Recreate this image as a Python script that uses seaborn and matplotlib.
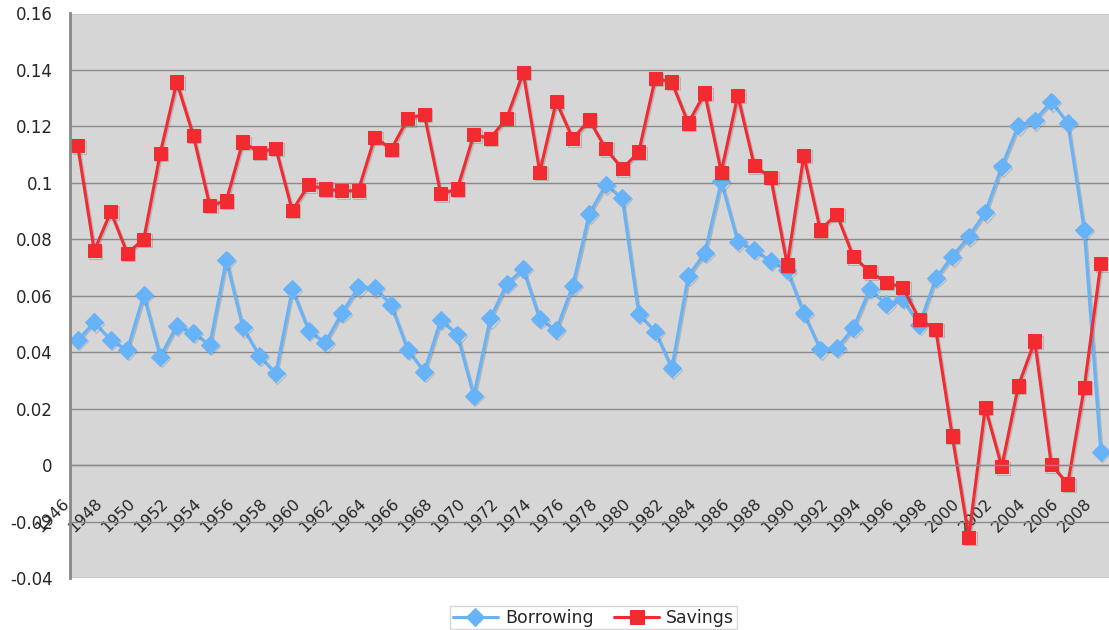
import numpy as np
import pandas as pd
import matplotlib
matplotlib.use("Agg")
import matplotlib.pyplot as plt
import matplotlib.patheffects as pe
import matplotlib.transforms as mtransforms
import seaborn as sns

# Data
years = list(range(1946, 2009))

borrowing = [0.0443, 0.0506, 0.0443, 0.0408, 0.0603, 0.0384, 0.0494, 0.0469,
             0.0426, 0.0727, 0.0488, 0.0387, 0.0325, 0.0623, 0.0476, 0.0434,
             0.0538, 0.0630, 0.0629, 0.0567, 0.0408, 0.0331, 0.0514, 0.0463,
             0.0245, 0.0520, 0.0642, 0.0695, 0.0517, 0.0479, 0.0636, 0.0890,
             0.0994, 0.0946, 0.0535, 0.0473, 0.0343, 0.0670, 0.0751, 0.1005,
             0.0792, 0.0762, 0.0723, 0.0690, 0.0538, 0.0410, 0.0414, 0.0485,
             0.0623, 0.0570, 0.0588, 0.0496, 0.0662, 0.0739, 0.0810, 0.0895,
             0.1058, 0.1203, 0.1221, 0.1288, 0.1212, 0.0833, 0.0047]

savings = [0.1131, 0.0759, 0.0898, 0.0751, 0.0800, 0.1105, 0.1357, 0.1169,
           0.0920, 0.0936, 0.1145, 0.1108, 0.1123, 0.0902, 0.0993, 0.0978,
           0.0972, 0.0972, 0.1162, 0.1119, 0.1227, 0.1243, 0.0961, 0.0978,
           0.1170, 0.1158, 0.1229, 0.1391, 0.1038, 0.1288, 0.1156, 0.1223,
           0.1121, 0.1050, 0.1109, 0.1371, 0.1357, 0.1212, 0.1318, 0.1038,
           0.1310, 0.1061, 0.1019, 0.0709, 0.1097, 0.0833, 0.0889, 0.0739,
           0.0685, 0.0648, 0.0629, 0.0517, 0.0481, 0.0103, -0.0256, 0.0205,
           -0.0006, 0.0280, 0.0440, 0.0002, -0.0067, 0.0276, 0.0713]

y_ticks = [-0.04, -0.02, 0, 0.02, 0.04, 0.06, 0.08, 0.1, 0.12, 0.14, 0.16]

BLUE = "#66B3FA"
RED = "#F42A31"
BG = "#D6D6D6"
GRID = "#8A8A8A"

df = pd.DataFrame({"idx": np.arange(len(years)), "Year": years,
                   "Borrowing": borrowing, "Savings": savings})

sns.set_style("white")
plt.rcParams["font.family"] = ["DejaVu Sans"]

fig = plt.figure(figsize=(11.09, 6.30), dpi=100)
ax = fig.add_axes([69.5 / 1109, 1 - 578 / 630, (1109 - 69.5) / 1109, (578 - 13.5) / 630])
ax.set_facecolor(BG)

# soft drop shadow like the original
shadow = [pe.SimpleLineShadow(offset=(1.0, -1.0), shadow_color="#666666", alpha=0.3), pe.Normal()]

sns.lineplot(data=df, x="idx", y="Borrowing", ax=ax, color=BLUE, linewidth=2.2,
             marker="D", markersize=9, markeredgecolor=BLUE, label="Borrowing",
             path_effects=shadow)
sns.lineplot(data=df, x="idx", y="Savings", ax=ax, color=RED, linewidth=2.2,
             marker="s", markersize=9.5, markeredgecolor=RED, label="Savings",
             path_effects=shadow)

ax.set_xlim(-0.5, 62.09)
ax.set_ylim(-0.04, 0.16)
ax.set_xlabel("")
ax.set_ylabel("")

# horizontal grid
ax.set_yticks(y_ticks)
ax.set_yticklabels(["{:g}".format(v) for v in y_ticks], fontsize=12)
ax.yaxis.grid(True, color=GRID, linewidth=1)
ax.set_axisbelow(True)
ax.tick_params(axis="y", direction="out", length=5, color=GRID, pad=7)

# category axis crossing at zero
for s in ["top", "right"]:
    ax.spines[s].set_visible(False)
ax.spines["left"].set_color("#888888")
ax.spines["left"].set_linewidth(2)
ax.spines["bottom"].set_position(("data", 0))
ax.spines["bottom"].set_color(GRID)
ax.spines["bottom"].set_linewidth(1)

label_pos = df["idx"][::2]
ax.set_xticks(label_pos)
ax.set_xticklabels([str(y) for y in years[::2]], rotation=45, ha="right",
                   rotation_mode="anchor", fontsize=11.5)
ax.set_xticks(np.arange(-0.5, 63, 1), minor=True)
ax.tick_params(axis="x", which="major", length=0, pad=22)
ax.tick_params(axis="x", which="minor", direction="out", length=5, color=GRID)
offset = mtransforms.ScaledTranslation(-12 / 72, 0, fig.dpi_scale_trans)
for lbl in ax.get_xticklabels():
    lbl.set_transform(lbl.get_transform() + offset)

leg = ax.legend(loc="upper center", bbox_to_anchor=(593.5 / 1109, 1 - 606 / 630),
                bbox_transform=fig.transFigure, ncol=2, frameon=True,
                fontsize=12.5, fancybox=False, handlelength=2.6,
                columnspacing=1.2, borderpad=0.15, handletextpad=0.4,
                borderaxespad=0)
leg.get_frame().set_edgecolor("#CCCCCC")
leg.get_frame().set_linewidth(1)
for h in leg.get_lines():
    h.set_path_effects([])

fig.savefig("out.png", dpi=100)
